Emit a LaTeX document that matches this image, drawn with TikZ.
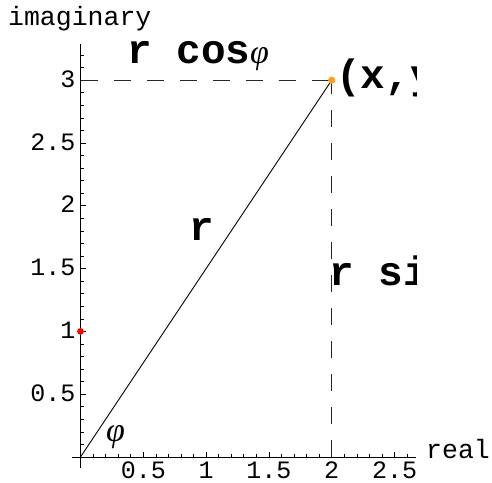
\documentclass[tikz,border=0pt]{standalone}
\usepackage{fontspec}
\setmainfont{Liberation Mono}
\newfontfamily\phifont{Liberation Serif}
\definecolor{ptorange}{RGB}{255,160,20}
\tikzset{
  axisline/.style={line width=0.9pt, black},
  ticklbl/.style={font=\fontsize{25}{25}\selectfont, inner sep=0pt},
  axislbl/.style={font=\fontsize{26.5}{26.5}\selectfont, inner sep=0pt},
  boldlbl/.style={font=\fontsize{41}{41}\selectfont\bfseries, inner sep=0pt},
  philbl/.style={font=\fontsize{34}{34}\selectfont\phifont\itshape, inner sep=0pt},
  guide/.style={line width=0.9pt, black!85, dash pattern=on 17pt off 16pt},
}
\newcommand{\phiglyph}{{\mdseries\phifont\itshape\fontsize{34}{34}\selectfont φ}}
\begin{document}
\begin{tikzpicture}[x=1pt,y=-1pt]
\useasboundingbox (0,0) rectangle (492,482);
% plot coordinates
\begin{scope}[shift={(80.5,457)}, x=125.6pt, y=125.6pt]
  \coordinate (O) at (0,0);
  \coordinate (P) at (2,3);
  \coordinate (Y3) at (0,3);
  \coordinate (X2) at (2,0);
  \coordinate (Y1) at (0,1);
  \coordinate (xl) at (-0.065,0);
  \coordinate (xr) at (2.67,0);
  \coordinate (yb) at (0,-0.09);
  \coordinate (yt) at (0,3.29);
  % axes
  \draw[axisline] (xl) -- (xr);
  \draw[axisline] (yb) -- (yt);
  % x ticks
  \foreach \i in {1,...,26} {
    \pgfmathtruncatemacro{\m}{mod(\i,5)}
    \ifnum\m=0
      \draw[line width=0.7pt] (\i/10,0) -- ++(0pt,5pt);
    \else
      \draw[line width=0.6pt] (\i/10,0) -- ++(0pt,3pt);
    \fi
  }
  % y ticks
  \foreach \i in {1,...,32} {
    \pgfmathtruncatemacro{\m}{mod(\i,5)}
    \ifnum\m=0
      \draw[line width=0.7pt] (0,\i/10) -- ++(5pt,0pt);
    \else
      \draw[line width=0.6pt] (0,\i/10) -- ++(3pt,0pt);
    \fi
  }
  % guide lines
  \draw[guide] (Y3) -- (P);
  \draw[guide] (X2) -- (P);
  % radius
  \draw[line width=0.9pt] (O) -- (P);
  % points
  \fill[red] (Y1) circle (3.4pt);
  \fill[ptorange] (P) circle (3.6pt);
\end{scope}
% tick labels x
\node[ticklbl, anchor=base] (tx1) at (143.3,478) {0.5};
\node[ticklbl, anchor=base] (tx2) at (206.1,478) {1};
\node[ticklbl, anchor=base] (tx3) at (268.9,478) {1.5};
\node[ticklbl, anchor=base] (tx4) at (331.7,478) {2};
\node[ticklbl, anchor=base] (tx5) at (394.5,478) {2.5};
% tick labels y
\node[ticklbl, anchor=base east] (ty1) at (75.5,401.2) {0.5};
\node[ticklbl, anchor=base east] (ty2) at (75.5,338.4) {1};
\node[ticklbl, anchor=base east] (ty3) at (75.5,275.6) {1.5};
\node[ticklbl, anchor=base east] (ty4) at (75.5,212.8) {2};
\node[ticklbl, anchor=base east] (ty5) at (75.5,150.0) {2.5};
\node[ticklbl, anchor=base east] (ty6) at (75.5,87.2) {3};
% axis labels
\node[axislbl, anchor=base west] (imag) at (8,25) {imaginary};
\node[axislbl, anchor=base west] (real) at (426,458) {real};
% annotations (clipped at plot edge)
\begin{scope}
  \clip (0,0) rectangle (416,482);
  \node[boldlbl, anchor=base west] (rcos) at (127,63) {r cos\phiglyph};
  \node[boldlbl, anchor=base west] (xy) at (336,88) {(x,y)};
  \node[boldlbl, anchor=base west] (rr) at (189,240) {r};
  \node[boldlbl, anchor=base west] (rsin) at (329,285) {r sin\phiglyph};
  \node[philbl, anchor=base west] (phi) at (106,441) {φ};
\end{scope}
\end{tikzpicture}
\end{document}
